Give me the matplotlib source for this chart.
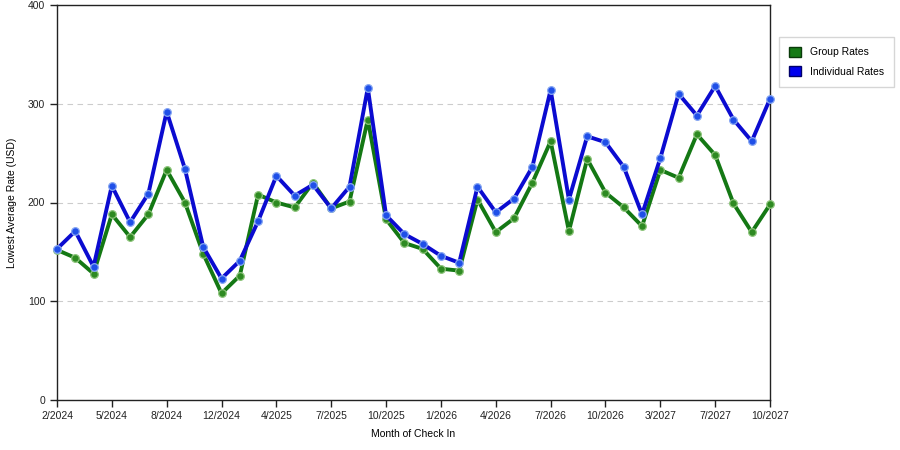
import matplotlib
matplotlib.use("Agg")
import matplotlib.pyplot as plt
from matplotlib.patches import Patch

# data
month_labels = ["2/2024", "5/2024", "8/2024", "12/2024", "4/2025", "7/2025", "10/2025",
                "1/2026", "4/2026", "7/2026", "10/2026", "3/2027", "7/2027", "10/2027"]

group_rates = [152, 144, 128, 188, 165, 188, 233, 200, 148, 108,
               126, 208, 200, 195, 220, 194, 201, 284, 183, 159,
               153, 133, 131, 203, 170, 184, 220, 262, 171, 244,
               210, 195, 176, 233, 225, 269, 248, 199, 170, 198]

individual_rates = [153, 171, 135, 217, 180, 209, 292, 234, 155, 123,
                    141, 181, 227, 207, 218, 194, 216, 316, 187, 168,
                    158, 146, 139, 216, 190, 204, 236, 314, 203, 267,
                    261, 236, 188, 245, 310, 288, 318, 284, 262, 305]

x = list(range(len(group_rates)))
tick_pos = x[::3]

plt.rcParams["font.family"] = ["Liberation Sans", "DejaVu Sans"]

fig = plt.figure(figsize=(9, 4.5), dpi=100)
ax = fig.add_axes([0.0633, 0.111, 0.7923, 0.878])

# group rates line
ax.plot(x, group_rates, color="#147814", linewidth=2.8, zorder=3, clip_on=False,
        marker="o", markersize=5.5, markerfacecolor="#2e8a22",
        markeredgecolor="#8cc47a", markeredgewidth=0.9)

# individual rates line
ax.plot(x, individual_rates, color="#0b0bd0", linewidth=2.8, zorder=4, clip_on=False,
        marker="o", markersize=5.5, markerfacecolor="#1f4fe8",
        markeredgecolor="#86a6f2", markeredgewidth=0.9)

ax.set_xlim(0, len(x) - 1)
ax.set_ylim(0, 400)
ax.set_yticks([0, 100, 200, 300, 400])
ax.set_xticks(tick_pos)
ax.set_xticklabels(month_labels)
ax.tick_params(axis="both", labelsize=7.5, direction="out", length=5, width=1, colors="#222222")
ax.tick_params(axis="x", pad=3)

ax.yaxis.grid(True, linestyle=(0, (5, 4)), color="#cccccc", linewidth=0.8)
ax.set_axisbelow(True)
for sp in ax.spines.values():
    sp.set_color("#222222")
    sp.set_linewidth(1)

ax.set_xlabel("Month of Check In", fontsize=7.5, labelpad=6)
ax.set_ylabel("Lowest Average Rate (USD)", fontsize=7.5, labelpad=8)

handles = [Patch(facecolor="#157a15", edgecolor="#0a3a0a", label="Group Rates"),
           Patch(facecolor="#0000ee", edgecolor="#00006a", label="Individual Rates")]
leg = fig.legend(handles=handles, loc="upper left", bbox_to_anchor=(0.866, 0.918),
                 fontsize=7.5, frameon=True, fancybox=False, handlelength=1.1,
                 handleheight=1.1, borderpad=0.95, labelspacing=0.85, handletextpad=0.9,
                 borderaxespad=0.0)
leg.get_frame().set_edgecolor("#cccccc")
leg.get_frame().set_linewidth(1)

fig.savefig("out.png", dpi=100)
